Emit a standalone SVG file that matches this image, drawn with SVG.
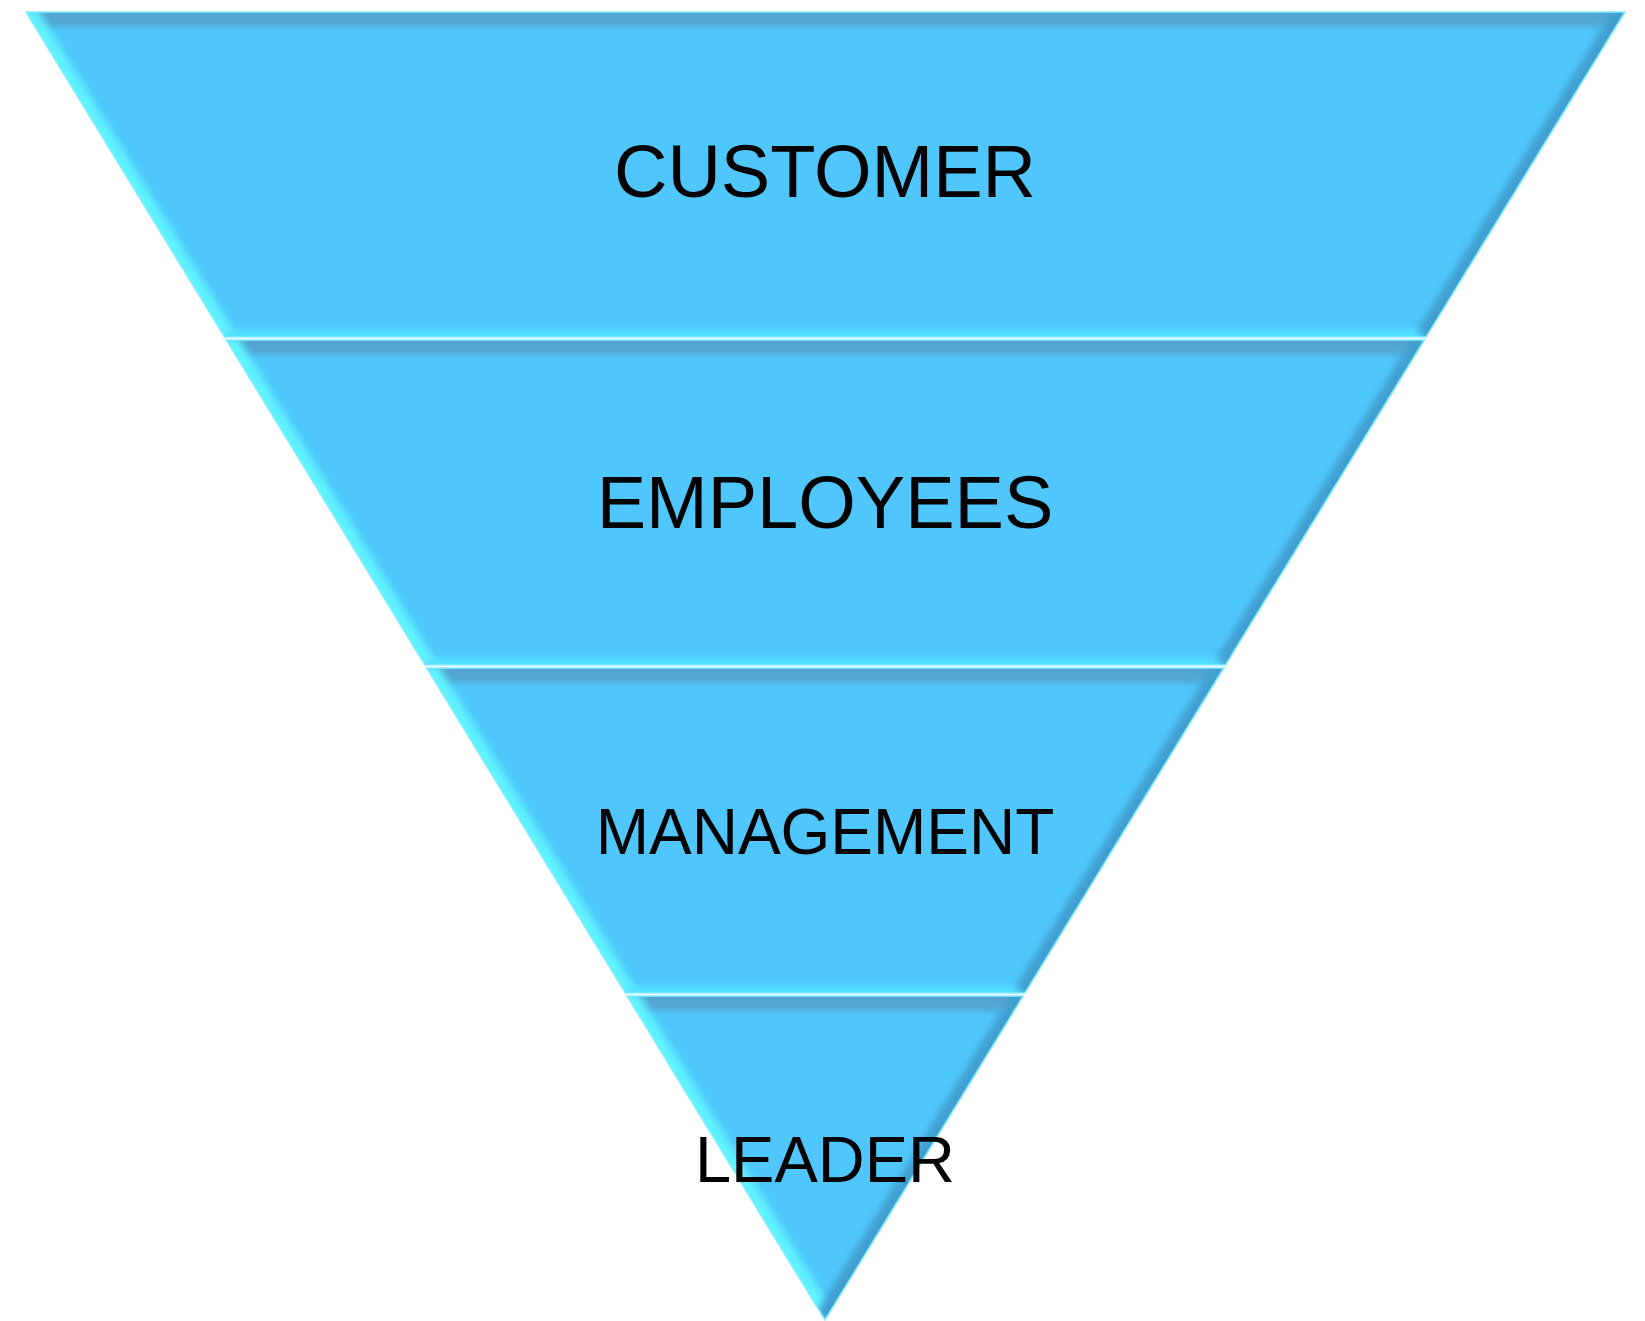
<svg xmlns="http://www.w3.org/2000/svg" width="1645" height="1321" viewBox="0 0 1645 1321">
<style>
.base{fill:#4fc7fc}
.edge{fill:none;stroke-width:22;filter:url(#soft)}
.eL{stroke:#5ef3ff}
.eR{stroke:#3f9fd0}
.eT{stroke:#52a6d2;stroke-width:30}
.eB{stroke:#55e2ff;stroke-width:14}
.rim{fill:none;stroke:#86ecff;stroke-width:1.6;stroke-linejoin:miter}
.lbl{font-family:"Liberation Sans",Arial,sans-serif;font-size:74px;fill:#000;text-anchor:middle}
.sm{font-size:64px}
</style>
<defs>
<filter id="soft" filterUnits="userSpaceOnUse" x="0" y="0" width="1645" height="1321"><feGaussianBlur stdDeviation="3.5"/></filter>
<clipPath id="c1"><polygon points="26,12 1625,12 1426.2,337 224.5,337"/></clipPath>
<clipPath id="c2"><polygon points="226.4,340 1424.4,340 1225.6,665 424.9,665"/></clipPath>
<clipPath id="c3"><polygon points="426.7,668 1223.8,668 1025,993 625.3,993"/></clipPath>
<clipPath id="c4"><polygon points="627.1,996 1023.2,996 825,1320"/></clipPath>
</defs>
<rect width="1645" height="1321" fill="#fff"/>
<g id="customer">
<polygon class="base" points="26,12 1625,12 1426.2,337 224.5,337"/>
<g clip-path="url(#c1)">
<line class="edge eT" x1="26" y1="12" x2="1625" y2="12"/>
<line class="edge eB" x1="224.5" y1="337" x2="1426.2" y2="337"/>
<line class="edge eL" x1="26" y1="12" x2="224.5" y2="337"/>
<line class="edge eR" x1="1625" y1="12" x2="1426.2" y2="337"/>
</g>
<polygon class="rim" points="26,12 1625,12 1426.2,337 224.5,337"/>
<text class="lbl" x="825" y="197">CUSTOMER</text>
</g>
<g id="employees">
<polygon class="base" points="226.4,340 1424.4,340 1225.6,665 424.9,665"/>
<g clip-path="url(#c2)">
<line class="edge eT" x1="226.4" y1="340" x2="1424.4" y2="340"/>
<line class="edge eB" x1="424.9" y1="665" x2="1225.6" y2="665"/>
<line class="edge eL" x1="226.4" y1="340" x2="424.9" y2="665"/>
<line class="edge eR" x1="1424.4" y1="340" x2="1225.6" y2="665"/>
</g>
<polygon class="rim" points="226.4,340 1424.4,340 1225.6,665 424.9,665"/>
<text class="lbl" x="825" y="528">EMPLOYEES</text>
</g>
<g id="management">
<polygon class="base" points="426.7,668 1223.8,668 1025,993 625.3,993"/>
<g clip-path="url(#c3)">
<line class="edge eT" x1="426.7" y1="668" x2="1223.8" y2="668"/>
<line class="edge eB" x1="625.3" y1="993" x2="1025" y2="993"/>
<line class="edge eL" x1="426.7" y1="668" x2="625.3" y2="993"/>
<line class="edge eR" x1="1223.8" y1="668" x2="1025" y2="993"/>
</g>
<polygon class="rim" points="426.7,668 1223.8,668 1025,993 625.3,993"/>
<text class="lbl sm" x="825" y="854">MANAGEMENT</text>
</g>
<g id="leader">
<polygon class="base" points="627.1,996 1023.2,996 825,1320"/>
<g clip-path="url(#c4)">
<line class="edge eT" x1="627.1" y1="996" x2="1023.2" y2="996"/>
<line class="edge eL" x1="627.1" y1="996" x2="825" y2="1320"/>
<line class="edge eR" x1="1023.2" y1="996" x2="825" y2="1320"/>
</g>
<polygon class="rim" points="627.1,996 1023.2,996 825,1320"/>
<text class="lbl" x="825" y="1182" style="font-size:65px">LEADER</text>
</g>
<g id="connectors"/>
</svg>
